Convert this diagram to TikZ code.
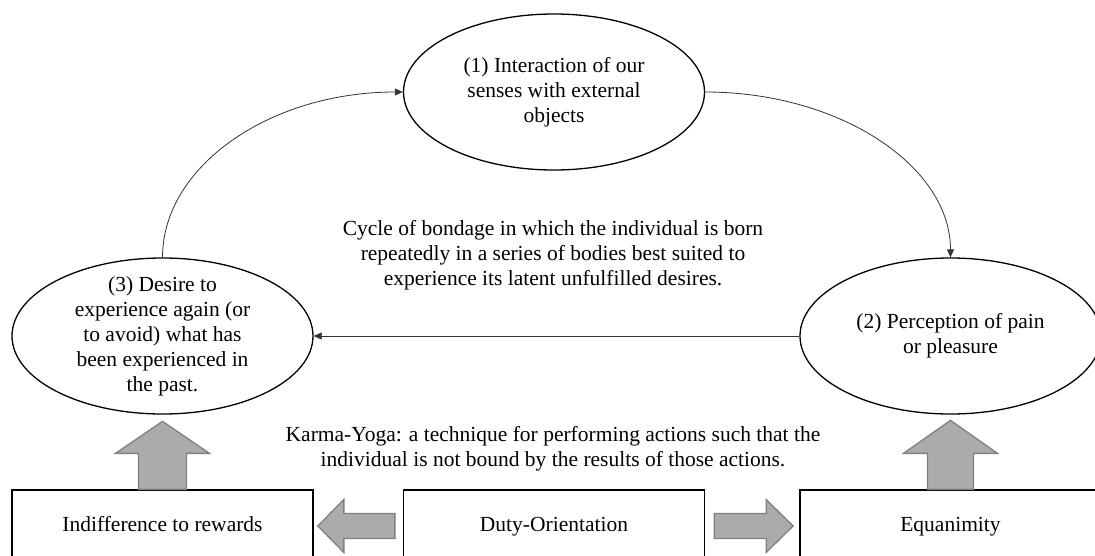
\documentclass[tikz,border=0pt]{standalone}
\usepackage{fontspec}
\setmainfont{Liberation Serif}
\usetikzlibrary{shapes.geometric, arrows.meta, positioning, calc}

\begin{document}
\begin{tikzpicture}[
    x=1pt, y=-1pt,
    font=\fontsize{21.5}{25}\selectfont,
    phase/.style={ellipse, draw=black, line width=1.3pt, minimum width=301pt, minimum height=156pt, inner sep=0pt},
    inside/.style={align=center},
    box/.style={rectangle, draw=black, line width=1.3pt, minimum width=301pt, minimum height=72pt, text height=15pt, text depth=5pt},
    note/.style={align=center},
    arrow/.style={->, >={Triangle[length=8pt,width=7pt]}, line width=0.8pt, black!80},
    blockarrow/.style={draw=black!50, fill=black!33, line width=1.3pt, line join=miter}]

    \useasboundingbox (0,0) rectangle (1095,555);

    % Cycle of bondage: three phases
    \node[phase, label={[inside]center:{(1) Interaction of our\\senses with external\\objects}}] (senses) at (554,92) {};
    \node[phase, label={[inside]center:{(2) Perception of pain\\or pleasure}}] (percept) at (950.5,336) {};
    \node[phase, label={[inside]center:{(3) Desire to\\experience again (or\\to avoid) what has\\been experienced in\\the past.}}] (desire) at (162.5,336) {};

    % Explanatory notes
    \node[note] (cycle) at (553,255) {Cycle of bondage in which the individual is born\\repeatedly in a series of bodies best suited to\\experience its latent unfulfilled desires.};
    \node[note] (karma) at (553,449) {Karma-Yoga: a technique for performing actions such that the\\individual is not bound by the results of those actions.};

    % Bottom row: Karma-Yoga
    \node[box] (indiff) at (162.5,526) {Indifference to rewards};
    \node[box] (duty) at (554,526) {Duty-Orientation};
    \node[box] (equan) at (950.5,526) {Equanimity};

    % Cycle arrows
    \draw[arrow] (desire.north) .. controls +(0,-91) and +(-133,0) .. (senses.west);
    \draw[arrow] (senses.east) .. controls +(135,0) and +(0,-91) .. (percept.north);
    \draw[arrow] (percept.west) -- (desire.east);

    % Block arrows
    \draw[blockarrow, shift={(indiff.north)}] (-24,0) -- (-24,-36) -- (-47,-36) -- (0,-68) -- (47,-36) -- (24,-36) -- (24,0) -- cycle;
    \draw[blockarrow, shift={(equan.north)}] (-23,0) -- (-23,-36) -- (-47,-36) -- (0,-69) -- (47,-36) -- (23,-36) -- (23,0) -- cycle;
    \draw[blockarrow, shift={(duty.west)}] (-8,-12.5) -- (-59,-12.5) -- (-59,-26.5) -- (-85,0) -- (-59,26.5) -- (-59,12.5) -- (-8,12.5) -- cycle;
    \draw[blockarrow, shift={(duty.east)}] (9,-12.5) -- (61,-12.5) -- (61,-26.5) -- (88,0) -- (61,26.5) -- (61,12.5) -- (9,12.5) -- cycle;
\end{tikzpicture}
\end{document}
